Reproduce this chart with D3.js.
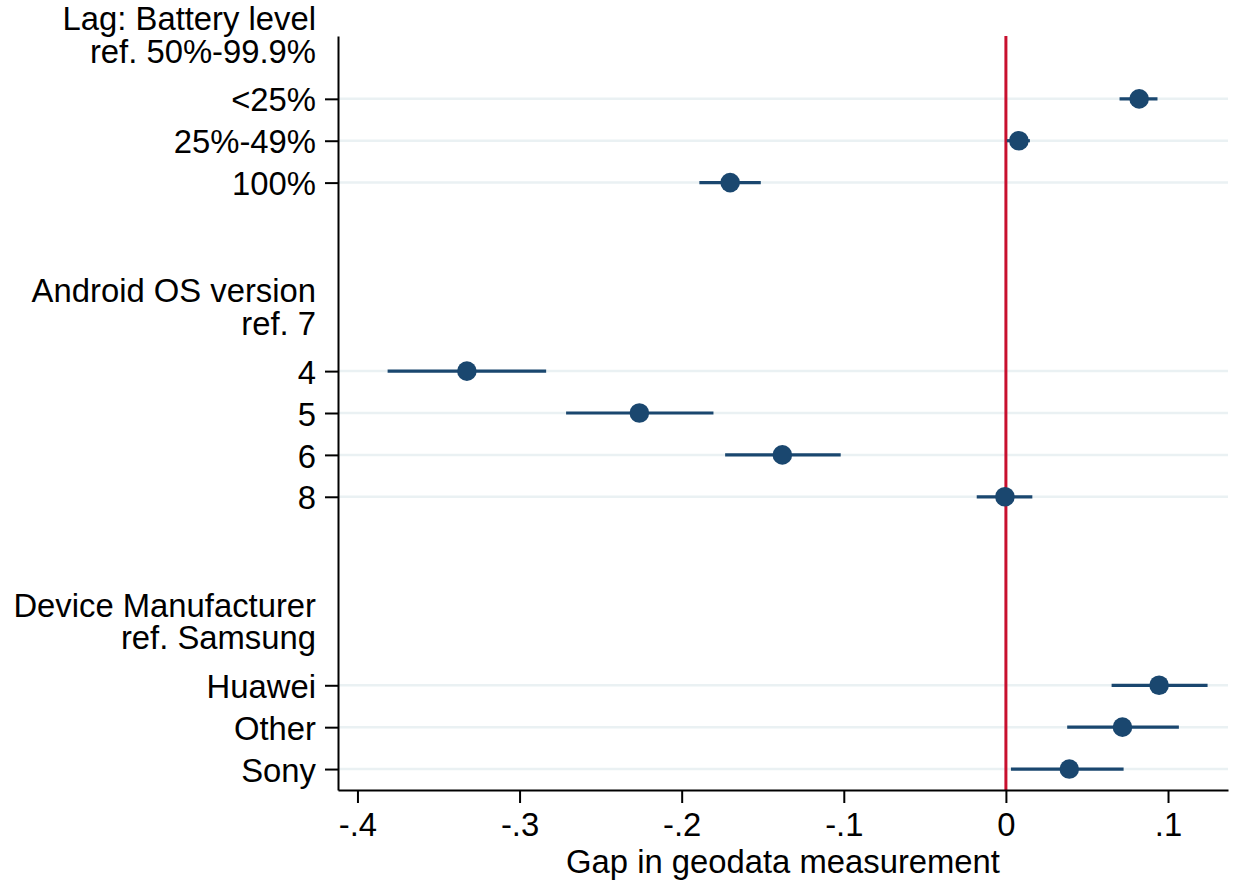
<!DOCTYPE html>
<html>
<head>
<meta charset="utf-8">
<script src="https://cdn.jsdelivr.net/npm/d3@7"></script>
<style>
  body { margin: 0; background: #fff; }
  svg { display: block; font-family: "Liberation Sans", Arial, sans-serif; }
  .axis path, .axis line { stroke: #000; stroke-width: 2; }
  .axis text { font-size: 32.8px; fill: #000; }
</style>
</head>
<body>
<svg id="chart" width="1251" height="882"></svg>
<script>
// coefficient plot data
var groupTitles = [
  ["Lag: Battery level", "ref. 50%-99.9%"],
  ["Android OS version", "ref. 7"],
  ["Device Manufacturer", "ref. Samsung"]
];
var rowLabels = ["<25%", "25%-49%", "100%", "4", "5", "6", "8", "Huawei", "Other", "Sony"];
var rowGroup = [0, 0, 0, 1, 1, 1, 1, 2, 2, 2];
var rowPos = [0, 1, 2, 6.5, 7.5, 8.5, 9.5, 14, 15, 16];
var estimate = [0.0822, 0.0080, -0.1701, -0.3325, -0.2261, -0.1379, -0.0006, 0.0945, 0.0719, 0.0391];
var ciLow = [0.0701, 0.0006, -0.1891, -0.3814, -0.2713, -0.1732, -0.0180, 0.0652, 0.0378, 0.0031];
var ciHigh = [0.0935, 0.0148, -0.1512, -0.2836, -0.1804, -0.1019, 0.0163, 0.1244, 0.1067, 0.0726];
var xTicks = [-0.4, -0.3, -0.2, -0.1, 0, 0.1];
var xTitle = "Gap in geodata measurement";

(function(){
  var navy = "#1a476f", red = "#c8102e", grid = "#eaf1f3";

  var svg = d3.select("#chart");
  var pLeft = 338, pRight = 1228, pTop = 36, pBottom = 790;

  var x = d3.scaleLinear().domain([-0.412, 0.137]).range([pLeft, pRight]);
  var y = d3.scaleLinear().domain([-1.5, 16.5]).range([pTop, pBottom]);

  // grid lines
  svg.append("g").selectAll("line")
    .data(rowPos)
    .join("line")
    .attr("x1", pLeft).attr("x2", pRight)
    .attr("y1", function(d){ return y(d); })
    .attr("y2", function(d){ return y(d); })
    .attr("stroke", grid)
    .attr("stroke-width", 2.5);

  // reference line at zero
  svg.append("line")
    .attr("x1", x(0)).attr("x2", x(0))
    .attr("y1", pTop).attr("y2", pBottom)
    .attr("stroke", red)
    .attr("stroke-width", 3);

  // confidence intervals
  svg.append("g").selectAll("line")
    .data(rowPos)
    .join("line")
    .attr("x1", function(d, i){ return x(ciLow[i]); })
    .attr("x2", function(d, i){ return x(ciHigh[i]); })
    .attr("y1", function(d){ return y(d); })
    .attr("y2", function(d){ return y(d); })
    .attr("stroke", navy)
    .attr("stroke-width", 3.2);

  // point estimates
  svg.append("g").selectAll("circle")
    .data(rowPos)
    .join("circle")
    .attr("cx", function(d, i){ return x(estimate[i]); })
    .attr("cy", function(d){ return y(d); })
    .attr("r", 9.8)
    .attr("fill", navy);

  // y axis
  var yAxis = d3.axisLeft(y)
    .tickValues(rowPos)
    .tickFormat(function(d, i){ return rowLabels[i]; })
    .tickSize(13)
    .tickPadding(9)
    .tickSizeOuter(0);
  var yg = svg.append("g").attr("class", "axis")
    .attr("transform", "translate(" + pLeft + ",0)")
    .call(yAxis);
  yg.selectAll(".tick text").attr("dy", "0.37em");

  // x axis
  var xAxis = d3.axisBottom(x)
    .tickValues(xTicks)
    .tickFormat(function(d){ return d === 0 ? "0" : d3.format(".1f")(d).replace("\u2212", "-").replace("0.", "."); })
    .tickSize(13)
    .tickPadding(10)
    .tickSizeOuter(0);
  var xg = svg.append("g").attr("class", "axis")
    .attr("transform", "translate(0," + pBottom + ")")
    .call(xAxis);
  xg.selectAll(".tick text").attr("dy", "0.71em");

  // axis title
  svg.append("text")
    .attr("x", (pLeft + pRight) / 2)
    .attr("y", 873)
    .attr("text-anchor", "middle")
    .style("font-size", "32.8px")
    .text(xTitle);

  // group headers
  groupTitles.forEach(function(lines, g){
    var first = rowPos[rowGroup.indexOf(g)];
    svg.append("text")
      .attr("x", pLeft - 22)
      .attr("y", y(first - 1.64))
      .attr("text-anchor", "end")
      .style("font-size", "32.8px")
      .selectAll("tspan")
      .data(lines)
      .join("tspan")
      .attr("x", pLeft - 22)
      .attr("dy", function(d, i){ return i === 0 ? 0 : 32.6; })
      .text(function(d){ return d; });
  });
})();
</script>
</body>
</html>
